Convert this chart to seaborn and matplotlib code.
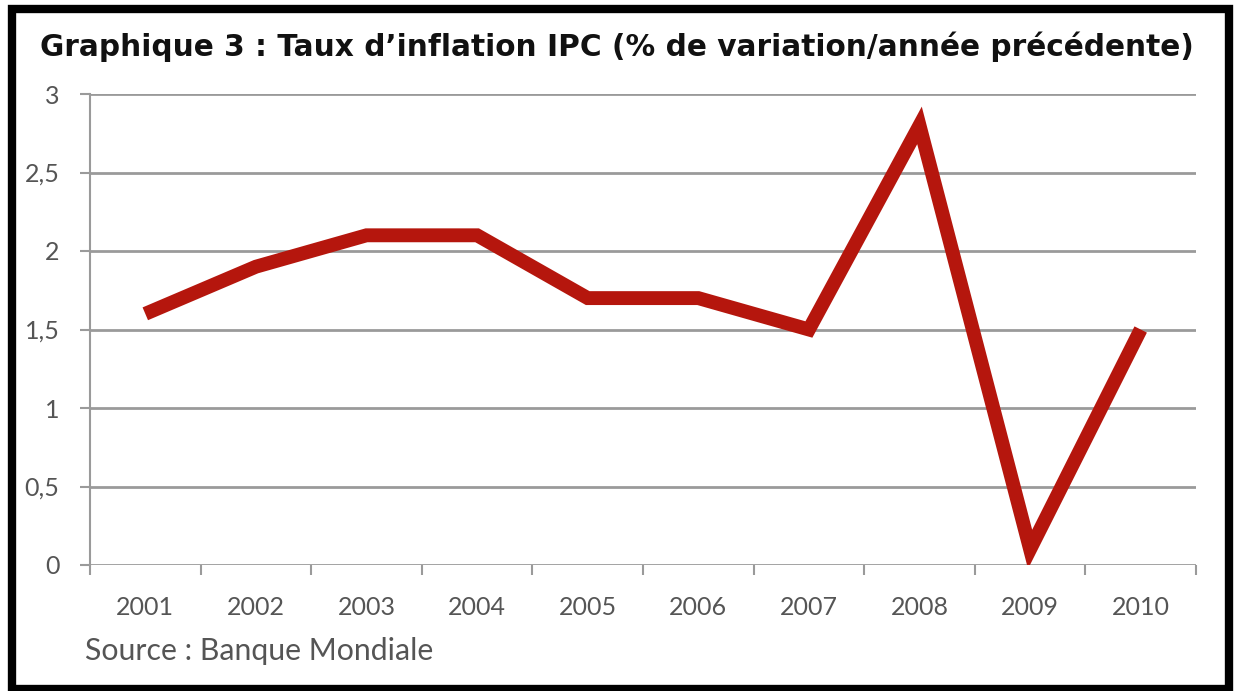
import numpy as np
import pandas as pd
import matplotlib
matplotlib.use("Agg")
import matplotlib.pyplot as plt
import seaborn as sns
from matplotlib.patches import Rectangle
from matplotlib.ticker import FixedLocator, FuncFormatter

years = ["2001", "2002", "2003", "2004", "2005", "2006", "2007", "2008", "2009", "2010"]
inflation = [1.6, 1.9, 2.1, 2.1, 1.7, 1.7, 1.5, 2.8, 0.1, 1.5]
y_ticks = [0, 0.5, 1, 1.5, 2, 2.5, 3]
title = "Graphique 3 : Taux d\u2019inflation IPC (% de variation/année précédente)"
source = "Source : Banque Mondiale"

sns.set_theme(style="white")
plt.rcParams["font.family"] = ["Lato", "DejaVu Sans"]

df = pd.DataFrame({"pos": np.arange(len(years)), "val": inflation})

W, H = 1237, 691
fig = plt.figure(figsize=(W / 100, H / 100), dpi=100)
ax = fig.add_axes([90 / W, 1 - 565 / H, (1196 - 90) / W, (565 - 94) / H])

sns.lineplot(data=df, x="pos", y="val", ax=ax, color="#B5160D", linewidth=10,
             solid_joinstyle="miter", solid_capstyle="butt", sort=False)

ax.set_xlim(-0.5, len(years) - 0.5)
ax.set_ylim(0, 3)
ax.set_xlabel("")
ax.set_ylabel("")

ax.yaxis.set_major_locator(FixedLocator(y_ticks))
ax.yaxis.set_major_formatter(FuncFormatter(lambda v, p: (f"{v:g}").replace(".", ",")))
ax.set_xticks(np.arange(len(years)))
ax.set_xticklabels(years)
ax.xaxis.set_minor_locator(FixedLocator(np.arange(-0.5, len(years), 1.0)))

ax.grid(axis="y", color="#9a9a9a", linewidth=2)
ax.set_axisbelow(True)
for s in ["top", "right", "bottom"]:
    ax.spines[s].set_visible(False)
ax.spines["left"].set_color("#9a9a9a")
ax.spines["left"].set_linewidth(1.5)

ax.tick_params(axis="y", which="major", left=True, length=7, width=1.5, color="#9a9a9a",
               labelsize=18, labelcolor="#555555", pad=15)
ax.tick_params(axis="x", which="major", bottom=False, labelsize=18, labelcolor="#555555", pad=16)
ax.tick_params(axis="x", which="minor", bottom=True, length=7, width=1.5, color="#9a9a9a")

fig.text(617 / W, 1 - 47 / H, title, ha="center", va="center", fontsize=21.3,
         fontweight="bold", family=["DejaVu Sans"], color="#111111")
fig.text(85 / W, 1 - 651 / H, source, ha="left", va="center", fontsize=21.8,
         color="#555555")

fig.patches.append(Rectangle((12 / W, 1 - 689 / H), (1228.5 - 12) / W, (689 - 9) / H,
                             transform=fig.transFigure, fill=False, edgecolor="black",
                             linewidth=6, zorder=10))

fig.savefig("out.png", dpi=100, facecolor="white")
